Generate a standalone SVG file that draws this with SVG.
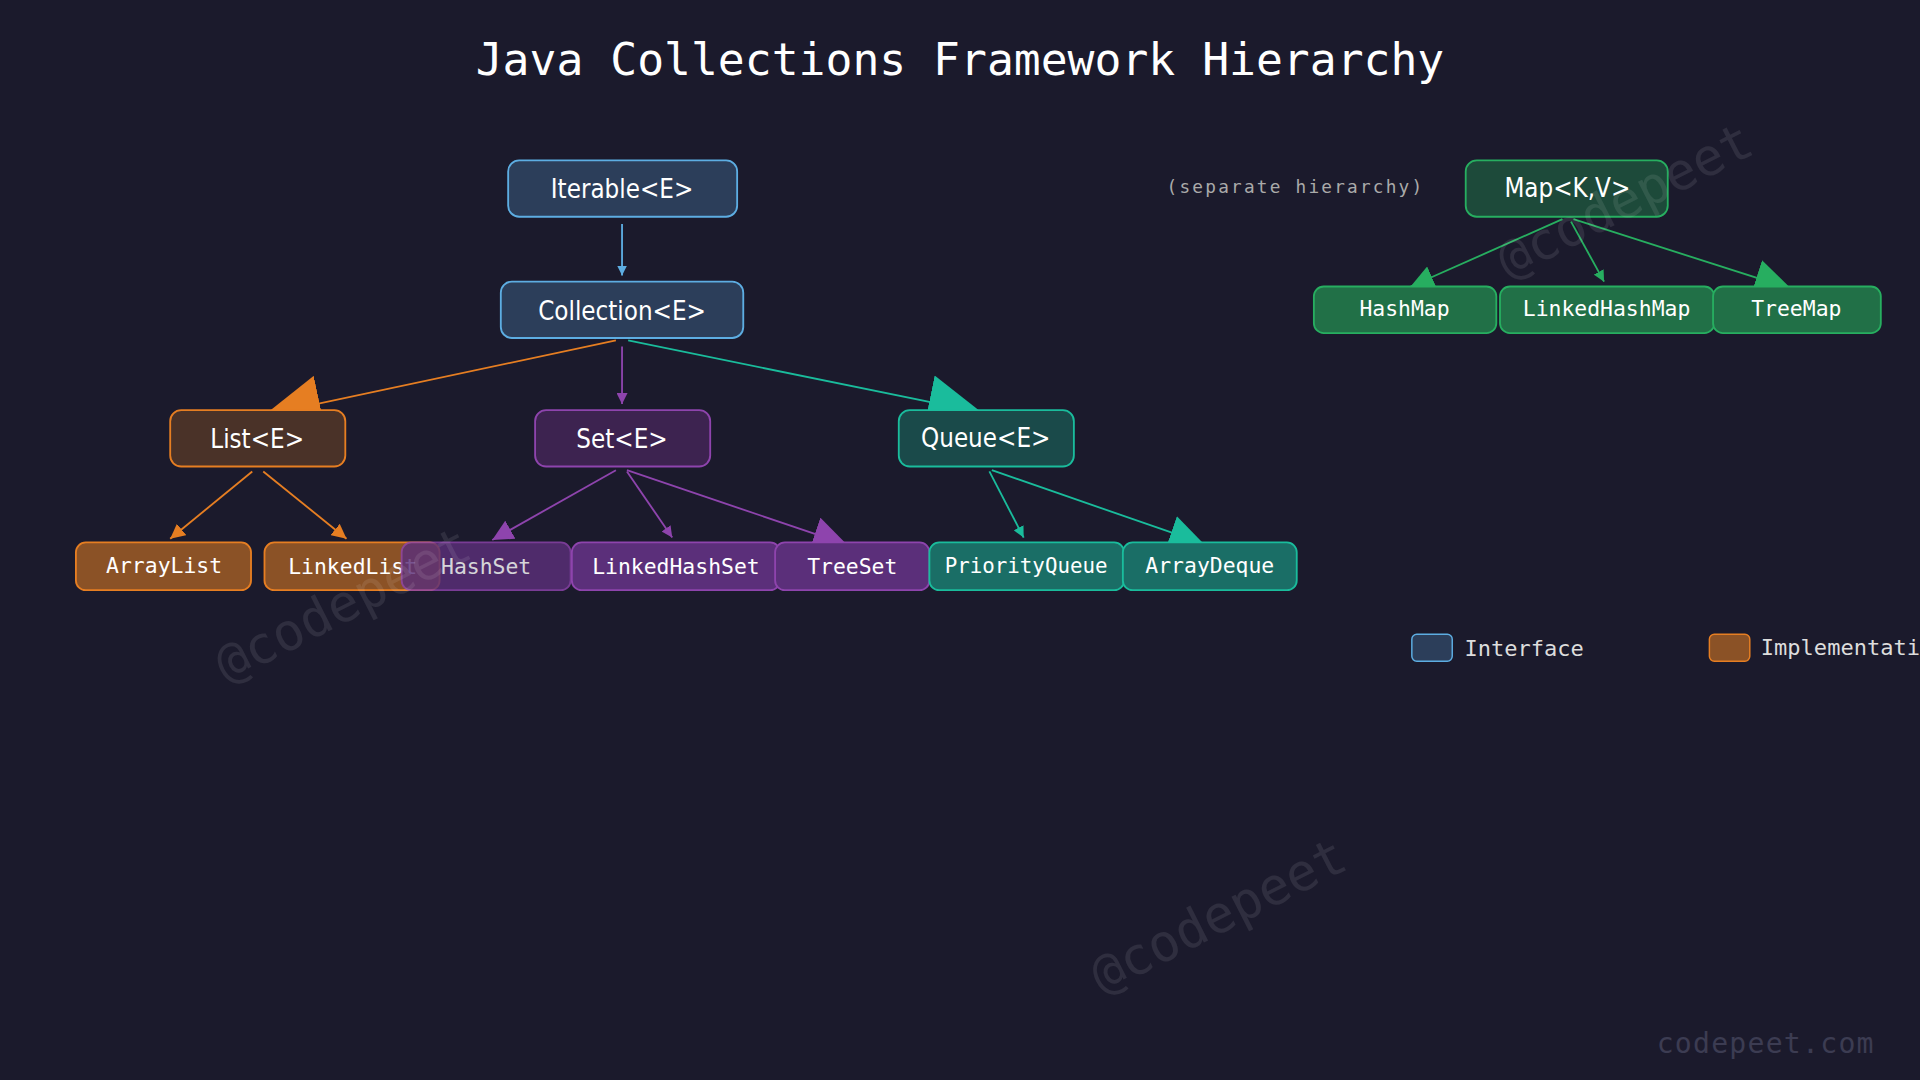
<svg xmlns="http://www.w3.org/2000/svg" width="1920" height="1080" viewBox="0 0 1920 1080">
<style>
.t{font-family:"DejaVu Sans Mono","Liberation Mono",monospace;fill:#ffffff;text-anchor:middle}
.i{font-family:"DejaVu Sans Condensed","DejaVu Sans","Liberation Sans Narrow",sans-serif;font-stretch:condensed;fill:#ffffff;text-anchor:middle;font-size:21px}
.c{fill:none;stroke-width:1.5}
.wm{font-family:"DejaVu Sans Mono",monospace;fill:#ffffff;fill-opacity:0.09;font-size:42px}
</style>
<defs>
<marker id="bS" viewBox="0 0 10 10" refX="10" refY="5" markerUnits="userSpaceOnUse" markerWidth="8" markerHeight="8" orient="auto"><path d="M0,0L10,5L0,10z" fill="#5dade2"/></marker>
<marker id="oS" viewBox="0 0 10 10" refX="10" refY="5" markerUnits="userSpaceOnUse" markerWidth="12" markerHeight="12" orient="auto"><path d="M0,0L10,5L0,10z" fill="#e67e22"/></marker>
<marker id="oX" viewBox="0 0 10 10" refX="10" refY="5" markerUnits="userSpaceOnUse" markerWidth="46" markerHeight="46" orient="auto"><path d="M0,0L10,5L0,10z" fill="#e67e22"/></marker>
<marker id="pS" viewBox="0 0 10 10" refX="10" refY="5" markerUnits="userSpaceOnUse" markerWidth="9" markerHeight="9" orient="auto"><path d="M0,0L10,5L0,10z" fill="#8e44ad"/></marker>
<marker id="pM" viewBox="0 0 10 10" refX="10" refY="5" markerUnits="userSpaceOnUse" markerWidth="17" markerHeight="17" orient="auto"><path d="M0,0L10,5L0,10z" fill="#8e44ad"/></marker>
<marker id="pL" viewBox="0 0 10 10" refX="10" refY="5" markerUnits="userSpaceOnUse" markerWidth="28" markerHeight="28" orient="auto"><path d="M0,0L10,5L0,10z" fill="#8e44ad"/></marker>
<marker id="tS" viewBox="0 0 10 10" refX="10" refY="5" markerUnits="userSpaceOnUse" markerWidth="9" markerHeight="9" orient="auto"><path d="M0,0L10,5L0,10z" fill="#1abc9c"/></marker>
<marker id="tL" viewBox="0 0 10 10" refX="10" refY="5" markerUnits="userSpaceOnUse" markerWidth="28" markerHeight="28" orient="auto"><path d="M0,0L10,5L0,10z" fill="#1abc9c"/></marker>
<marker id="tX" viewBox="0 0 10 10" refX="10" refY="5" markerUnits="userSpaceOnUse" markerWidth="44" markerHeight="44" orient="auto"><path d="M0,0L10,5L0,10z" fill="#1abc9c"/></marker>
<marker id="gS" viewBox="0 0 10 10" refX="10" refY="5" markerUnits="userSpaceOnUse" markerWidth="9" markerHeight="9" orient="auto"><path d="M0,0L10,5L0,10z" fill="#27ae60"/></marker>
<marker id="gM" viewBox="0 0 10 10" refX="10" refY="5" markerUnits="userSpaceOnUse" markerWidth="19" markerHeight="19" orient="auto"><path d="M0,0L10,5L0,10z" fill="#27ae60"/></marker>
<marker id="gL" viewBox="0 0 10 10" refX="10" refY="5" markerUnits="userSpaceOnUse" markerWidth="30" markerHeight="30" orient="auto"><path d="M0,0L10,5L0,10z" fill="#27ae60"/></marker>
</defs>
<rect width="1920" height="1080" fill="#1b1a2c"/>
<g transform="scale(1.22449)">
<text x="784" y="61" class="t" font-size="36.5">Java Collections Framework Hierarchy</text>
<text x="1058" y="158" class="t" font-size="14.5" style="fill:#aaaaaa" letter-spacing="1.8">(separate hierarchy)</text>

<g id="connectors">
<line class="c" stroke="#5dade2" x1="508" y1="183" x2="508" y2="225" marker-end="url(#bS)"/>
<line class="c" stroke="#e67e22" x1="503" y1="278" x2="216" y2="339" marker-end="url(#oX)"/>
<line class="c" stroke="#8e44ad" x1="508" y1="283" x2="508" y2="330" marker-end="url(#pS)"/>
<line class="c" stroke="#1abc9c" x1="513" y1="278" x2="802" y2="337" marker-end="url(#tX)"/>
<line class="c" stroke="#e67e22" x1="206" y1="385" x2="139" y2="440" marker-end="url(#oS)"/>
<line class="c" stroke="#e67e22" x1="215" y1="385" x2="283" y2="440" marker-end="url(#oS)"/>
<line class="c" stroke="#8e44ad" x1="503" y1="384" x2="402" y2="441" marker-end="url(#pM)"/>
<line class="c" stroke="#8e44ad" x1="512" y1="385" x2="549" y2="439" marker-end="url(#pS)"/>
<line class="c" stroke="#8e44ad" x1="512" y1="384" x2="692" y2="445" marker-end="url(#pL)"/>
<line class="c" stroke="#1abc9c" x1="808" y1="385" x2="836" y2="439" marker-end="url(#tS)"/>
<line class="c" stroke="#1abc9c" x1="810" y1="384" x2="983" y2="444" marker-end="url(#tL)"/>
<line class="c" stroke="#27ae60" x1="1276" y1="179" x2="1152" y2="234" marker-end="url(#gM)"/>
<line class="c" stroke="#27ae60" x1="1283" y1="181" x2="1310" y2="230" marker-end="url(#gS)"/>
<line class="c" stroke="#27ae60" x1="1285" y1="179" x2="1463" y2="236" marker-end="url(#gL)"/>
</g>

<g id="iterable"><rect x="415" y="131" width="187" height="46" rx="9" fill="#2c3e5a" stroke="#5dade2" stroke-width="1.5"/><text x="508" y="162" class="i">Iterable&lt;E&gt;</text></g>
<g id="collection"><rect x="409" y="230" width="198" height="46" rx="9" fill="#2c3e5a" stroke="#5dade2" stroke-width="1.5"/><text x="508" y="261" class="i">Collection&lt;E&gt;</text></g>
<g id="list"><rect x="139" y="335" width="143" height="46" rx="9" fill="#4a3228" stroke="#e67e22" stroke-width="1.5"/><text x="210" y="366" class="i">List&lt;E&gt;</text></g>
<g id="set"><rect x="437" y="335" width="143" height="46" rx="9" fill="#3d2350" stroke="#8e44ad" stroke-width="1.5"/><text x="508" y="366" class="i">Set&lt;E&gt;</text></g>
<g id="queue"><rect x="734" y="335" width="143" height="46" rx="9" fill="#1a4a4a" stroke="#1abc9c" stroke-width="1.5"/><text x="805" y="365" class="i">Queue&lt;E&gt;</text></g>

<g id="arraylist"><rect x="62" y="443" width="143" height="39" rx="8" fill="#8b5226" stroke="#e67e22" stroke-width="1.5"/><text x="134" y="468" class="t" font-size="17.5">ArrayList</text></g>
<g id="linkedlist"><rect x="216" y="443" width="143" height="39" rx="8" fill="#8b5226" stroke="#e67e22" stroke-width="1.5"/><text x="288" y="469" class="t" font-size="17.5">LinkedList</text></g>
<g id="hashset" opacity="0.82"><rect x="328" y="443" width="138" height="39" rx="8" fill="#5b2f7a" stroke="#8e44ad" stroke-width="1.5"/><text x="397" y="469" class="t" font-size="17.5">HashSet</text></g>
<g id="linkedhashset"><rect x="467" y="443" width="170" height="39" rx="8" fill="#5b2f7a" stroke="#8e44ad" stroke-width="1.5"/><text x="552" y="469" class="t" font-size="17.5">LinkedHashSet</text></g>
<g id="treeset"><rect x="633" y="443" width="126" height="39" rx="8" fill="#5b2f7a" stroke="#8e44ad" stroke-width="1.5"/><text x="696" y="469" class="t" font-size="17.5">TreeSet</text></g>
<g id="priorityqueue"><rect x="759" y="443" width="159" height="39" rx="8" fill="#1a6e66" stroke="#1abc9c" stroke-width="1.5"/><text x="838" y="468" class="t" font-size="17">PriorityQueue</text></g>
<g id="arraydeque"><rect x="917" y="443" width="142" height="39" rx="8" fill="#1a6e66" stroke="#1abc9c" stroke-width="1.5"/><text x="988" y="468" class="t" font-size="17.5">ArrayDeque</text></g>

<g id="map"><rect x="1197" y="131" width="165" height="46" rx="9" fill="#1d4a3a" stroke="#27ae60" stroke-width="1.5"/><text x="1280" y="161" class="i">Map&lt;K,V&gt;</text></g>
<g id="hashmap"><rect x="1073" y="234" width="149" height="38" rx="8" fill="#217047" stroke="#27ae60" stroke-width="1.5"/><text x="1147" y="258" class="t" font-size="17.5">HashMap</text></g>
<g id="linkedhashmap"><rect x="1225" y="234" width="175" height="38" rx="8" fill="#217047" stroke="#27ae60" stroke-width="1.5"/><text x="1312" y="258" class="t" font-size="17.5">LinkedHashMap</text></g>
<g id="treemap"><rect x="1399" y="234" width="137" height="38" rx="8" fill="#217047" stroke="#27ae60" stroke-width="1.5"/><text x="1467" y="258" class="t" font-size="17.5">TreeMap</text></g>

<g id="legend">
<rect x="1153" y="518" width="33" height="22" rx="4" fill="#2c3e5a" stroke="#5dade2" stroke-width="1.2"/>
<text x="1196" y="536" class="t" font-size="18" style="text-anchor:start;fill:#dddddd">Interface</text>
<rect x="1396" y="518" width="33" height="22" rx="4" fill="#8b5226" stroke="#e67e22" stroke-width="1.2"/>
<text x="1438" y="535" class="t" font-size="18" style="text-anchor:start;fill:#dddddd">Implementation</text>
</g>

<text class="wm" transform="translate(185,558) rotate(-27)">@codepeet</text>
<text class="wm" transform="translate(1232,228) rotate(-27)">@codepeet</text>
<text class="wm" transform="translate(900,812) rotate(-27)">@codepeet</text>
<text x="1442" y="860" class="t" font-size="23" style="fill:#3c3c52" letter-spacing="1">codepeet.com</text>
</g>
</svg>
